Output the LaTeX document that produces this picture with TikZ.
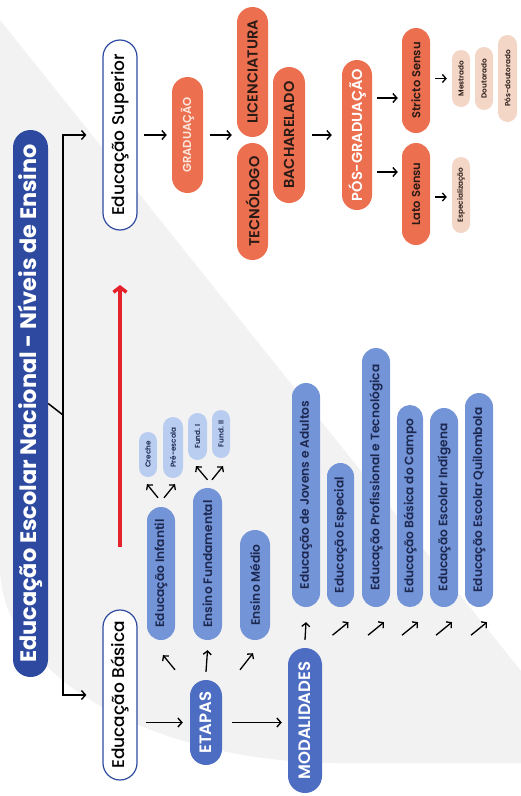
\documentclass[tikz,border=0pt]{standalone}
\usepackage{fontspec}
\setmainfont{Poppins}[BoldFont={Poppins SemiBold}]
\newfontfamily\heavy{Poppins Bold}
\newfontfamily\med{Poppins Medium}
\usetikzlibrary{arrows.meta,shapes.misc,calc}
\definecolor{bgc}{HTML}{F2F2F2}
\definecolor{navy}{HTML}{2D4AA0}
\definecolor{bdark}{HTML}{4D6DC3}
\definecolor{bmid}{HTML}{7494D8}
\definecolor{blight}{HTML}{B9CDF1}
\definecolor{btext}{HTML}{1C2850}
\definecolor{orng}{HTML}{EC7050}
\definecolor{peach}{HTML}{F3D6C6}
\definecolor{otext}{HTML}{2A1A16}
\definecolor{gtext}{HTML}{FDE6DC}
\definecolor{redarr}{HTML}{E3222A}
\begin{document}
\begin{tikzpicture}[x=1pt,y=1pt,
  pill/.style={rounded rectangle, rotate=90, inner sep=0pt, align=center},
  outl/.style={pill, draw=navy, line width=1.2pt, fill=white, text=black, font=\fontsize{17}{17}\med},
  orbox/.style={pill, fill=orng, text=otext, font=\fontsize{14.5}{14.5}\selectfont\bfseries},
  pebox/.style={pill, fill=peach, text=otext, font=\fontsize{7.3}{7.3}\selectfont\bfseries, minimum height=18pt},
  bdbox/.style={pill, fill=bdark, text=white, font=\fontsize{16.5}{16.5}\selectfont\bfseries},
  bmbox/.style={pill, fill=bmid, text=btext, font=\fontsize{12.2}{12.2}\selectfont\bfseries, minimum height=28pt},
  blbox/.style={pill, fill=blight, text=btext, font=\fontsize{7.3}{7.3}\selectfont\bfseries, minimum height=19pt},
  arr/.style={-{Straight Barb[length=4pt,width=9pt]}, line width=1.4pt, black},
  sarr/.style={-{Straight Barb[length=3.5pt,width=8pt]}, line width=1.3pt, black}
]
\useasboundingbox (0,0) rectangle (521,-796);
% background
\fill[bgc] (0,-20) -- (521,-671) -- (521,-763) -- (340,-763)
  arc[start angle=270, end angle=180, x radius=340pt, y radius=196pt] -- cycle;

% title
\node[pill, fill=navy, text=white, minimum width=547pt, minimum height=35pt,
  font=\fontsize{22.4}{22.4}\heavy] (title) at (30.5,-403.5)
  {Educação Escolar Nacional - Níveis de Ensino};

% level nodes
\node[outl, minimum width=190pt, minimum height=34pt] (ES) at (120,-135) {Educação Superior};
\node[outl, minimum width=170pt, minimum height=34pt] (EB) at (120,-695) {Educação Básica};

% superior branch
\node[orbox, minimum width=116pt, minimum height=31pt, text=gtext, font=\fontsize{11.6}{11.6}\selectfont\bfseries] (GR) at (187.5,-135) {GRADUAÇÃO};
\node[orbox, minimum width=130pt, minimum height=31pt] (LIC) at (252.5,-72) {LICENCIATURA};
\node[orbox, minimum width=117pt, minimum height=31pt] (TEC) at (252.5,-201.5) {TECNÓLOGO};
\node[orbox, minimum width=136pt, minimum height=32pt] (BAC) at (289,-135) {BACHARELADO};
\node[orbox, minimum width=150pt, minimum height=30pt, text=white, font=\fontsize{14.5}{14.5}\selectfont\bfseries] (PG) at (357,-135) {PÓS-GRADUAÇÃO};
\node[orbox, minimum width=105pt, minimum height=28pt, font=\fontsize{11.5}{11.5}\selectfont\bfseries] (SS) at (416,-80.5) {Stricto Sensu};
\node[orbox, minimum width=102pt, minimum height=28pt, font=\fontsize{11.5}{11.5}\selectfont\bfseries] (LS) at (416,-194) {Lato Sensu};
\node[pebox, minimum width=57pt] (ME) at (461,-78.5) {Mestrado};
\node[pebox, minimum width=63pt] (DO) at (484,-78.5) {Doutorado};
\node[pebox, minimum width=87pt, minimum height=19pt] (PD) at (507.5,-78.5) {Pós-doutorado};
\node[pebox, minimum width=76pt] (EP) at (461,-195) {Especialização};

% basica branch
\node[bdbox, minimum width=85pt, minimum height=32pt] (ET) at (206,-722.5) {ETAPAS};
\node[bdbox, minimum width=145pt, minimum height=34pt] (MO) at (305,-720.5) {MODALIDADES};
\node[bmbox, minimum width=133pt] (EI) at (161,-573.5) {Educação Infantil};
\node[bmbox, minimum width=152pt, minimum height=29pt] (EF) at (207.5,-564) {Ensino Fundamental};
\node[bmbox, minimum width=110pt, minimum height=30pt] (EM) at (255,-585) {Ensino Médio};
\node[blbox, minimum width=45pt, minimum height=18pt] (CR) at (148,-454.5) {Creche};
\node[blbox, minimum width=61pt, minimum height=20pt] (PE) at (173,-447.5) {Pré-escola};
\node[blbox, minimum width=47pt] (F1) at (197.5,-436.5) {Fund. I};
\node[blbox, minimum width=48pt, minimum height=18pt] (F2) at (221,-434) {Fund. II};
\node[bmbox, minimum width=224pt] (M1) at (306,-495) {Educação de Jovens e Adultos};
\node[bmbox, minimum width=144pt, minimum height=27pt] (M2) at (340.5,-535) {Educação Especial};
\node[bmbox, minimum width=259pt] (M3) at (376,-477.5) {Educação Profissional e Tecnológica};
\node[bmbox, minimum width=202pt, minimum height=26pt] (M4) at (410,-506) {Educação Básica do Campo};
\node[bmbox, minimum width=199pt] (M5) at (444,-507.5) {Educação Escolar Indígena};
\node[bmbox, minimum width=214pt] (M6) at (479,-500) {Educação Escolar Quilombola};

% trunk
\coordinate (trunk) at (63,-415);
\draw[line width=1.5pt] (title.south) -- (trunk);
\draw[arr, shorten >=16pt] (trunk) |- (ES.north);
\draw[arr, shorten >=16pt] (trunk) |- (EB.north);

% superior arrows
\draw[arr, shorten <=6pt, shorten >=5pt] (ES.south) -- (GR.north);
\draw[arr, shorten <=7pt, shorten >=5pt] (GR.south) -- (GR.south -| LIC.north);
\draw[arr, shorten <=7pt, shorten >=10pt] (BAC.south) -- (PG.north);
\draw[arr, shorten <=5pt, shorten >=4pt] ([yshift=37pt]PG.south) -- ([yshift=37pt]PG.south -| SS.north);
\draw[arr, shorten <=5pt, shorten >=4pt] ([yshift=-37pt]PG.south) -- ([yshift=-37pt]PG.south -| LS.north);
\draw[sarr, shorten <=5pt, shorten >=5pt] ([yshift=2pt]SS.south) -- ([yshift=2pt]SS.south -| ME.north);
\draw[sarr, shorten <=5pt, shorten >=5pt] ([yshift=-3pt]LS.south) -- ([yshift=-3pt]LS.south -| EP.north);

% red arrow
\coordinate (r1) at (120,-547);
\coordinate (r2) at (120,-285);
\draw[redarr, line width=3.5pt, -{Straight Barb[length=5pt,width=13pt]}] (r1) -- (r2);

% basica arrows
\draw[arr, shorten <=8pt, shorten >=7pt] (EB.south |- ET.north) -- (ET.north);
\draw[arr, shorten <=10pt, shorten >=6pt] (ET.south) -- (ET.south -| MO.north);
\draw[sarr] ([xshift=-31pt,yshift=10pt]ET.east) -- ([xshift=2pt,yshift=-15pt]EI.west);
\draw[sarr] ([yshift=8pt]ET.east) -- ([yshift=-10pt]EF.west);
\draw[sarr] ([xshift=34pt,yshift=10pt]ET.east) -- ([xshift=-2pt,yshift=-13pt]EM.west);
\draw[sarr] ([xshift=-3pt,yshift=9pt]EI.east) -- ([xshift=-1pt,yshift=-7pt]CR.west);
\draw[sarr] ([xshift=3pt,yshift=9pt]EI.east) -- ([xshift=2pt,yshift=-6pt]PE.west);
\draw[sarr] ([yshift=8pt]EF.east) -- ([xshift=-1.5pt,yshift=-6pt]F1.west);
\draw[sarr] ([xshift=4.5pt,yshift=8pt]EF.east) -- ([xshift=2pt,yshift=-8pt]F2.west);
\draw[sarr] ([yshift=8pt]MO.east) -- ([yshift=-15pt]M1.west);
\foreach \m in {M2,M3,M4,M5,M6}{
  \draw[sarr] ([xshift=-8pt,yshift=-28pt]\m.west) -- ([xshift=8pt,yshift=-15pt]\m.west);
}
\end{tikzpicture}
\end{document}
